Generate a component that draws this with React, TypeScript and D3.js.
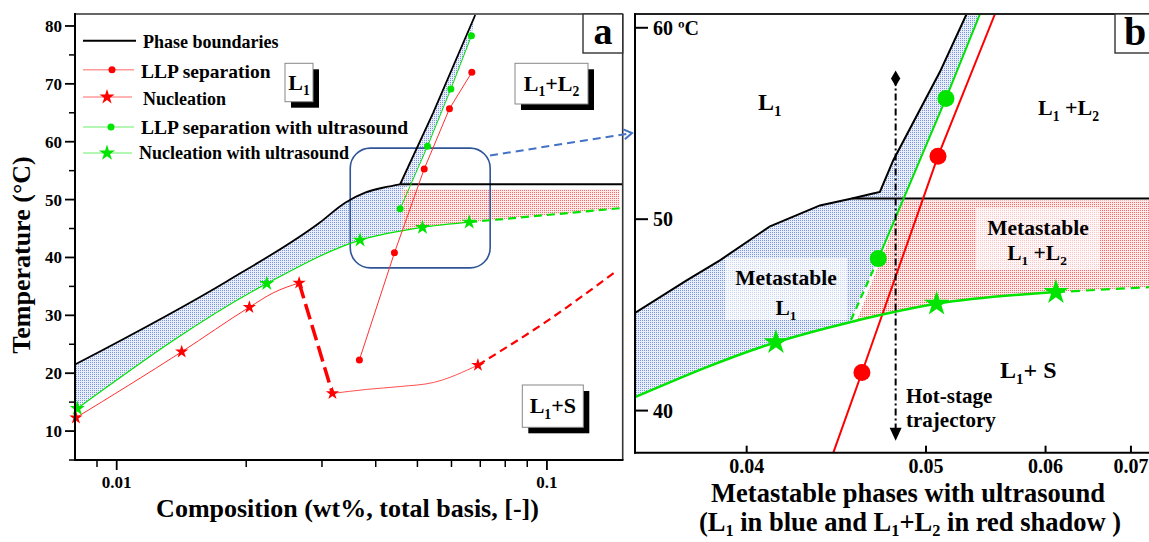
import React from 'react';
import * as d3 from 'd3';

type P = [number, number];

const FONT = "'Liberation Serif', 'Times New Roman', Times, serif";
const RED = '#ff0000';
const GREEN = '#00e400';

// ---------------- Panel a : ticks ----------------
const aXMajorTicks = [0.01, 0.1];
const aXMinorTicks = [0.009, 0.02, 0.03, 0.04, 0.05, 0.06, 0.07, 0.08, 0.09];
const aYMajorTicks = [10, 20, 30, 40, 50, 60, 70, 80];
const aYMinorTicks = [5, 15, 25, 35, 45, 55, 65, 75];

// ---------------- Panel a : series ----------------
const aPhaseBoundaryLow: P[] = [[0.008, 21.5], [0.01805, 35.9], [0.02972, 46.1], [0.03397, 49.46], [0.03779, 51.19], [0.04206, 52.14], [0.04558, 52.65]];
const aPhaseBoundarySteep: P[] = [[0.04558, 52.65], [0.05439, 65.0], [0.06812, 81.9]];
const aPhaseHorizontal: P[] = [[0.04558, 52.65], [0.15, 52.65]];
const aLLP: P[] = [[0.03665, 22.3], [0.04421, 40.8], [0.05185, 55.3], [0.05935, 65.7], [0.0669, 72.0]];
const aLLPUltrasound: P[] = [[0.04558, 48.4], [0.05277, 59.2], [0.05979, 69.1], [0.06676, 78.3]];
const aNucUltrasound: P[] = [[0.0081, 13.9], [0.02233, 35.5], [0.03679, 43.0], [0.05137, 45.2], [0.06597, 46.1]];
const aNucUltrasoundExt: P[] = [[0.06597, 46.1], [0.1476, 48.5]];
const aNucleationCurve: P[] = [[0.00804, 12.3], [0.01416, 23.7], [0.02034, 31.4], [0.02313, 33.9], [0.02655, 35.6]];
const aNucleationStars: P[] = [[0.00804, 12.3], [0.01416, 23.7], [0.02034, 31.4], [0.02655, 35.6], [0.03173, 16.5], [0.06912, 21.4]];
const aNucleationDrop: P[] = [[0.02655, 35.6], [0.03173, 16.5]];
const aNucleationLow: P[] = [[0.03173, 16.5], [0.03814, 17.2], [0.04558, 17.7], [0.0545, 18.4], [0.06912, 21.4]];
const aNucleationExt: P[] = [[0.06912, 21.4], [0.1, 29.0], [0.1429, 37.3]];
// shaded zones (outlines, clipped by the nucleation-with-ultrasound curve)
const aBlueEdge: P[] = [[0.0483, 52.6], [0.0462, 51.8], [0.0462, 5], [0.008, 5]];
const aRedZone: P[] = [[0.0462, 51.8], [0.1476, 51.8], [0.1476, 5], [0.0462, 5]];
const aZoomBox = { c0: 0.0349, c1: 0.0738, t0: 38.2, t1: 58.9 };

// ---------------- Panel b : ticks ----------------
const bXTicks = [0.04, 0.05, 0.06, 0.07];
const bXTickLabels = ['0.04', '0.05', '0.06', '0.07'];
const bYTicks = [40, 50, 60];
const bYTickLabels = ['40', '50', '60 ºC'];

// ---------------- Panel b : series ----------------
const bPhaseBoundary: P[] = [[0.03557, 45.1], [0.03749, 46.8], [0.03884, 47.85], [0.04107, 49.63], [0.04356, 50.72], [0.04532, 51.08], [0.04656, 51.34], [0.04698, 51.42], [0.04782, 53.08], [0.05099, 57.7], [0.053, 60.72]];
const bPhaseHorizontal: P[] = [[0.04532, 51.08], [0.0735, 51.08]];
const bLLPUltrasoundLine: P[] = [[0.05407, 60.72], [0.05143, 56.31], [0.04688, 47.94]];
const bLLPUltrasoundDash: P[] = [[0.04688, 47.94], [0.04521, 44.62]];
const bLLPUltrasoundDots: P[] = [[0.04688, 47.94], [0.05143, 56.31]];
const bLLPLine: P[] = [[0.05532, 60.72], [0.05085, 53.29], [0.0459, 41.99], [0.04428, 37.8]];
const bLLPDots: P[] = [[0.05085, 53.29], [0.0459, 41.99]];
const bNucCurve: P[] = [[0.03557, 40.7], [0.04135, 43.57], [0.04521, 44.62], [0.05075, 45.58], [0.06106, 46.19]];
const bNucStars: P[] = [[0.04135, 43.57], [0.05075, 45.58], [0.06106, 46.19]];
const bNucExt: P[] = [[0.06106, 46.19], [0.073, 46.46]];
const bBlueEdge: P[] = [[0.05407, 60.72], [0.05143, 56.31], [0.04688, 47.94], [0.0421, 37.8], [0.03557, 37.8]];
const bRedZone: P[] = [[0.04849, 50.98], [0.0735, 50.98], [0.0735, 37.8], [0.0428, 37.8]];
const bTrajectory: P[] = [[0.04797, 57.35], [0.04797, 38.43]];

function Rich({ x, y, parts, size, anchor = 'start', sub = 0.25 }: { x: number; y: number; parts: string[]; size: number; anchor?: string; sub?: number }) {
  let cur = 0;
  const shift = size * sub;
  return (
    <text x={x} y={y} fontSize={size} textAnchor={anchor as any} fontWeight="bold" fontFamily={FONT} style={{ whiteSpace: 'pre' }}>
      {parts.map((p, i) => {
        const isSub = p.startsWith('_');
        const txt = isSub ? p.slice(1) : p;
        const target = isSub ? shift : 0;
        const dy = target - cur;
        cur = target;
        return (
          <tspan key={i} dy={dy} fontSize={isSub ? size * 0.62 : size}>
            {txt}
          </tspan>
        );
      })}
    </text>
  );
}

const starPath = (size: number) => d3.symbol().type(d3.symbolStar).size(size)() as string;

function LabelBox({ x, y, w, h, parts, size }: { x: number; y: number; w: number; h: number; parts: string[]; size: number }) {
  return (
    <g>
      <rect x={x + 6} y={y + 6} width={w} height={h} fill="#000" />
      <rect x={x} y={y} width={w} height={h} fill="#fff" stroke="#888" strokeWidth={1} />
      <Rich x={x + w / 2} y={y + h / 2 + size * 0.32} parts={parts} size={size} anchor="middle" />
    </g>
  );
}

export default function App() {
  // ----- scales -----
  const xA = d3.scaleLog().domain([0.008, 0.15]).range([75, 622.7]);
  const yA = d3.scaleLinear().domain([5, 82.07]).range([460, 14]);
  const xB = d3.scalePow().exponent(-1).domain([0.03557, 0.073]).range([635, 1152]);
  const yB = d3.scaleLinear().domain([37.8, 60.72]).range([452.7, 14]);

  const lA = (curve: any = d3.curveLinear) => d3.line<P>().x((d) => xA(d[0])).y((d) => yA(d[1])).curve(curve);
  const lB = (curve: any = d3.curveLinear) => d3.line<P>().x((d) => xB(d[0])).y((d) => yB(d[1])).curve(curve);
  const appA = (pts: P[]) => pts.map((p) => `L${xA(p[0])},${yA(p[1])}`).join('');

  // clip: region above nucleation-with-ultrasound curve (panel a)
  const nucA = lA(d3.curveMonotoneX)(aNucUltrasound) as string;
  const endA = aNucUltrasoundExt[aNucUltrasoundExt.length - 1];
  const clipNucA = `M60,${yA(aNucUltrasound[0][1])}` + nucA.replace(/^M/, 'L') + `L${xA(endA[0])},${yA(endA[1])}L640,${yA(endA[1])}L640,0L60,0Z`;

  const nucB = lB(d3.curveMonotoneX)(bNucCurve) as string;
  const endB = bNucExt[bNucExt.length - 1];
  const clipNucB = `M625,${yB(bNucCurve[0][1])}` + nucB.replace(/^M/, 'L') + `L${xB(endB[0])},${yB(endB[1])}L1170,${yB(endB[1])}L1170,0L625,0Z`;

  const polyA = (pts: P[]) => (lA()(pts) as string) + 'Z';
  const polyB = (pts: P[]) => (lB()(pts) as string) + 'Z';

  const lowBoundaryA = lA(d3.curveMonotoneX)(aPhaseBoundaryLow) as string;
  const aBluePath =
    lowBoundaryA + appA(aPhaseBoundarySteep.slice(1)) + appA(aLLPUltrasound.slice(1).reverse()) + appA(aBlueEdge) + 'Z';
  const bBluePoly = [...bPhaseBoundary, ...bBlueEdge] as P[];

  // annotation arrow (panel a -> panel b)
  const arrStart: P = [490, 155.5];
  const arrEnd: P = [632, 133];
  const ang = Math.atan2(arrEnd[1] - arrStart[1], arrEnd[0] - arrStart[0]);
  const hx = (dl: number, dp: number) => arrEnd[0] - dl * Math.cos(ang) - dp * Math.sin(ang);
  const hy = (dl: number, dp: number) => arrEnd[1] - dl * Math.sin(ang) + dp * Math.cos(ang);

  const trajX = xB(bTrajectory[0][0]);
  const trajTop = yB(bTrajectory[0][1]);
  const trajBot = yB(bTrajectory[1][1]);

  return (
    <svg width={1149} height={542} style={{ position: 'absolute', left: 0, top: 0, background: '#fff' }} fontFamily={FONT}>
      <defs>
        <pattern id="blueDots" width={2} height={2} patternUnits="userSpaceOnUse">
          <rect width={2} height={2} fill="#e9eefa" />
          <rect width={1} height={1} fill="#7897da" />
        </pattern>
        <pattern id="redDots" width={2} height={2} patternUnits="userSpaceOnUse">
          <rect width={2} height={2} fill="#ffeaea" />
          <rect width={1} height={1} fill="#f26a6a" />
        </pattern>
        <clipPath id="plotA">
          <rect x={75} y={14} width={547.7} height={446} />
        </clipPath>
        <clipPath id="plotB">
          <rect x={635} y={14} width={520} height={438.7} />
        </clipPath>
        <clipPath id="nucA">
          <path d={clipNucA} />
        </clipPath>
        <clipPath id="nucB">
          <path d={clipNucB} />
        </clipPath>
      </defs>
      <rect x={0} y={0} width={1149} height={542} fill="#fff" />

      {/* ================= PANEL A ================= */}
      <g clipPath="url(#plotA)">
        <g clipPath="url(#nucA)">
          <path d={aBluePath} fill="url(#blueDots)" />
          <path d={polyA(aRedZone)} fill="url(#redDots)" />
        </g>
      </g>

      {/* zoom box */}
      <rect
        x={xA(aZoomBox.c0)}
        y={yA(aZoomBox.t1)}
        width={xA(aZoomBox.c1) - xA(aZoomBox.c0)}
        height={yA(aZoomBox.t0) - yA(aZoomBox.t1)}
        rx={20}
        fill="none"
        stroke="#2f5597"
        strokeWidth={1.6}
      />

      <g clipPath="url(#plotA)" fill="none">
        <path d={lowBoundaryA} stroke="#000" strokeWidth={1.8} />
        <path d={lA()(aPhaseBoundarySteep) as string} stroke="#000" strokeWidth={1.8} />
        <path d={lA()(aPhaseHorizontal) as string} stroke="#000" strokeWidth={1.8} />
        <path d={nucA} stroke={GREEN} strokeWidth={1.2} />
        <path d={lA()(aNucUltrasoundExt) as string} stroke={GREEN} strokeWidth={2.2} strokeDasharray="8,5" />
        <path d={lA()(aLLPUltrasound) as string} stroke={GREEN} strokeWidth={1} />
        <path d={lA()(aLLP) as string} stroke="#ff3030" strokeWidth={1} />
        <path d={lA(d3.curveMonotoneX)(aNucleationCurve) as string} stroke="#ff3030" strokeWidth={1} />
        <path d={lA()(aNucleationDrop) as string} stroke={RED} strokeWidth={3.5} strokeDasharray="16,6" />
        <path d={lA(d3.curveMonotoneX)(aNucleationLow) as string} stroke="#ff5050" strokeWidth={1} />
        <path d={lA(d3.curveMonotoneX)(aNucleationExt) as string} stroke={RED} strokeWidth={2.2} strokeDasharray="8,5" />
      </g>
      {aLLP.map((d, i) => (
        <circle key={'ra' + i} cx={xA(d[0])} cy={yA(d[1])} r={3.5} fill={RED} />
      ))}
      {aLLPUltrasound.map((d, i) => (
        <circle key={'ga' + i} cx={xA(d[0])} cy={yA(d[1])} r={3.5} fill={GREEN} />
      ))}
      {aNucleationStars.map((d, i) => (
        <path key={'rs' + i} d={starPath(55)} transform={`translate(${xA(d[0])},${yA(d[1])})`} fill={RED} />
      ))}
      {aNucUltrasound.map((d, i) => (
        <path key={'gs' + i} d={starPath(70)} transform={`translate(${xA(d[0])},${yA(d[1])})`} fill={GREEN} />
      ))}

      {/* frame & axes a */}
      <line x1={75} y1={14} x2={622.7} y2={14} stroke="#333" strokeWidth={1.6} />
      <line x1={622.7} y1={14} x2={622.7} y2={460} stroke="#333" strokeWidth={1.6} />
      <line x1={75} y1={13} x2={75} y2={461} stroke="#000" strokeWidth={2} />
      <line x1={74} y1={460} x2={623.5} y2={460} stroke="#000" strokeWidth={2} />
      {aYMajorTicks.map((t) => (
        <g key={'ya' + t}>
          <line x1={65} x2={75} y1={yA(t)} y2={yA(t)} stroke="#000" strokeWidth={1.8} />
          <text x={62} y={yA(t) + 6} fontSize={17} fontWeight="bold" textAnchor="end">
            {t}
          </text>
        </g>
      ))}
      {aYMinorTicks.map((t) => (
        <line key={'yma' + t} x1={69} x2={75} y1={yA(t)} y2={yA(t)} stroke="#000" strokeWidth={1.5} />
      ))}
      {aXMajorTicks.map((t) => (
        <g key={'xa' + t}>
          <line x1={xA(t)} x2={xA(t)} y1={460} y2={470} stroke="#000" strokeWidth={1.8} />
          <text x={xA(t)} y={488} fontSize={17} fontWeight="bold" textAnchor="middle">
            {String(t)}
          </text>
        </g>
      ))}
      {aXMinorTicks.map((t) => (
        <line key={'xma' + t} x1={xA(t)} x2={xA(t)} y1={460} y2={467} stroke="#000" strokeWidth={1.5} />
      ))}
      <text x={347.5} y={517} fontSize={26} fontWeight="bold" textAnchor="middle">
        Composition (wt%, total basis, [-])
      </text>
      <text x={30} y={255} fontSize={26} fontWeight="bold" textAnchor="middle" transform="rotate(-90 30 255)">
        Temperature (°C)
      </text>

      {/* legend a */}
      <line x1={83} x2={136} y1={40.7} y2={40.7} stroke="#000" strokeWidth={2} />
      <text x={143} y={48} fontSize={18} fontWeight="bold">Phase boundaries</text>
      <line x1={83} x2={134} y1={69.7} y2={69.7} stroke="#ff9a9a" strokeWidth={1.5} />
      <circle cx={112} cy={69.7} r={3.5} fill={RED} />
      <text x={141} y={77.5} fontSize={19.5} fontWeight="bold">LLP separation</text>
      <line x1={83} x2={132} y1={97} y2={97} stroke="#ff9a9a" strokeWidth={1.5} />
      <path d={starPath(70)} transform="translate(107,97)" fill={RED} />
      <text x={143} y={104.5} fontSize={18} fontWeight="bold">Nucleation</text>
      <line x1={83} x2={134} y1={127} y2={127} stroke="#9af59a" strokeWidth={1.5} />
      <circle cx={111} cy={127} r={3.5} fill={GREEN} />
      <text x={141} y={134} fontSize={19.5} fontWeight="bold">LLP separation with ultrasound</text>
      <line x1={83} x2={132} y1={153} y2={153} stroke="#9af59a" strokeWidth={1.5} />
      <path d={starPath(80)} transform="translate(107,153)" fill={GREEN} />
      <text x={139} y={159} fontSize={18} fontWeight="bold">Nucleation with ultrasound</text>

      {/* region labels a */}
      <LabelBox x={285} y={63.3} w={28} h={38.4} parts={['L', '_1']} size={22} />
      <LabelBox x={515} y={63.3} w={73} h={40.7} parts={['L', '_1', '+L', '_2']} size={22} />
      <LabelBox x={522.3} y={385} w={61} h={42.3} parts={['L', '_1', '+S']} size={22} />
      <rect x={583} y={14} width={39.7} height={39} fill="#fff" stroke="#333" strokeWidth={1.4} />
      <text x={603} y={44} fontSize={38} fontWeight="bold" textAnchor="middle">a</text>

      {/* arrow to panel b */}
      <line x1={arrStart[0]} y1={arrStart[1]} x2={arrEnd[0]} y2={arrEnd[1]} stroke="#4472c4" strokeWidth={2} strokeDasharray="8,5" />
      <polyline
        points={`${hx(8, -5)},${hy(8, -5)} ${arrEnd[0]},${arrEnd[1]} ${hx(8, 5)},${hy(8, 5)}`}
        fill="none"
        stroke="#4472c4"
        strokeWidth={2}
      />

      {/* ================= PANEL B ================= */}
      <g clipPath="url(#plotB)">
        <g clipPath="url(#nucB)">
          <path d={polyB(bBluePoly)} fill="url(#blueDots)" />
          <path d={polyB(bRedZone)} fill="url(#redDots)" />
        </g>
        <rect x={725} y={258} width={122} height={62} fill="#fff" fillOpacity={0.62} />
        <rect x={976} y={208} width={124} height={62} fill="#fff" fillOpacity={0.62} />
        <g fill="none">
          <path d={lB()(bPhaseBoundary) as string} stroke="#000" strokeWidth={2} />
          <path d={lB()(bPhaseHorizontal) as string} stroke="#000" strokeWidth={2} />
          <path d={lB()(bLLPLine) as string} stroke={RED} strokeWidth={2} />
          <path d={lB()(bLLPUltrasoundLine) as string} stroke={GREEN} strokeWidth={2} />
          <path d={lB()(bLLPUltrasoundDash) as string} stroke={GREEN} strokeWidth={2.2} strokeDasharray="7,5" />
          <path d={nucB} stroke={GREEN} strokeWidth={2.5} />
          <path d={lB()(bNucExt) as string} stroke={GREEN} strokeWidth={2.2} strokeDasharray="9,6" />
        </g>
        {bLLPDots.map((d, i) => (
          <circle key={'rb' + i} cx={xB(d[0])} cy={yB(d[1])} r={8.5} fill={RED} />
        ))}
        {bLLPUltrasoundDots.map((d, i) => (
          <circle key={'gb' + i} cx={xB(d[0])} cy={yB(d[1])} r={8.5} fill={GREEN} />
        ))}
        {bNucStars.map((d, i) => (
          <path key={'sb' + i} d={starPath(200)} transform={`translate(${xB(d[0])},${yB(d[1])})`} fill={GREEN} />
        ))}
        {/* hot-stage trajectory */}
        <line x1={trajX} x2={trajX} y1={trajTop} y2={trajBot - 10} stroke="#000" strokeWidth={2} strokeDasharray="7,3,2,3" />
        <path d={d3.symbol().type(d3.symbolDiamond).size(75)() as string} transform={`translate(${trajX},${trajTop})`} fill="#000" />
        <path d={`M${trajX - 6},${trajBot - 13}L${trajX + 6},${trajBot - 13}L${trajX},${trajBot}Z`} fill="#000" />
      </g>

      {/* frame & axes b */}
      <line x1={635} y1={14} x2={1149} y2={14} stroke="#222" strokeWidth={1.8} />
      <line x1={635} y1={13} x2={635} y2={453.7} stroke="#000" strokeWidth={2} />
      <line x1={634} y1={452.7} x2={1149} y2={452.7} stroke="#000" strokeWidth={2} />
      {bYTicks.map((t, i) => (
        <g key={'yb' + t}>
          <line x1={635} x2={648} y1={yB(t)} y2={yB(t)} stroke="#000" strokeWidth={2} />
          <text x={653} y={yB(t) + 7} fontSize={20} fontWeight="bold">
            {bYTickLabels[i]}
          </text>
        </g>
      ))}
      {bXTicks.map((t, i) => (
        <g key={'xb' + t}>
          <line x1={xB(t)} x2={xB(t)} y1={452.7} y2={445.7} stroke="#000" strokeWidth={2} />
          <text x={xB(t)} y={473} fontSize={20} fontWeight="bold" textAnchor="middle">
            {bXTickLabels[i]}
          </text>
        </g>
      ))}
      <text x={908} y={502} fontSize={26.5} fontWeight="bold" textAnchor="middle">
        Metastable phases with ultrasound
      </text>
      <Rich x={910} y={531} parts={['(L', '_1', ' in blue and L', '_1', '+L', '_2', ' in red shadow )']} size={26.5} anchor="middle" sub={0.18} />

      {/* labels b */}
      <Rich x={758} y={110} parts={['L', '_1']} size={24} />
      <Rich x={1038} y={115} parts={['L', '_1', ' +L', '_2']} size={22} />
      <text x={786} y={285} fontSize={21.5} fontWeight="bold" textAnchor="middle">Metastable</text>
      <Rich x={786} y={315} parts={['L', '_1']} size={21.5} anchor="middle" />
      <text x={1038} y={235} fontSize={21.5} fontWeight="bold" textAnchor="middle">Metastable</text>
      <Rich x={1037} y={260} parts={['L', '_1', ' +L', '_2']} size={21.5} anchor="middle" />
      <Rich x={1000} y={378} parts={['L', '_1', '+ S']} size={24} />
      <text x={906} y={403} fontSize={21} fontWeight="bold">Hot-stage</text>
      <text x={906} y={427} fontSize={21} fontWeight="bold">trajectory</text>

      <rect x={1115} y={14} width={40} height={39} fill="#fff" stroke="#333" strokeWidth={1.4} />
      <text x={1135} y={45} fontSize={40} fontWeight="bold" textAnchor="middle">b</text>
    </svg>
  );
}
